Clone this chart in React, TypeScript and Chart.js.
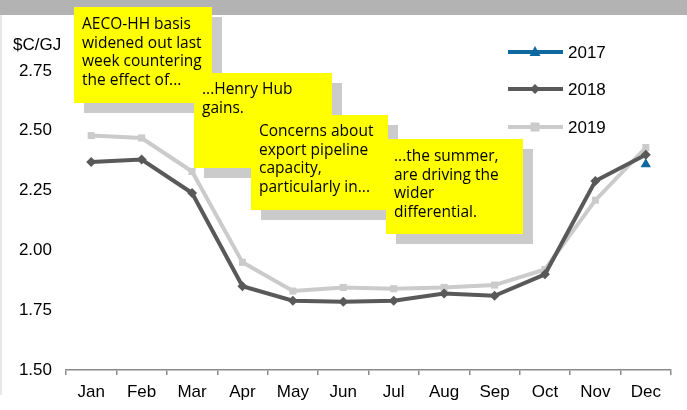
import React, { useEffect, useRef } from "react";
import { Chart, registerables } from "chart.js";

Chart.register(...registerables);

const months = ["Jan", "Feb", "Mar", "Apr", "May", "Jun", "Jul", "Aug", "Sep", "Oct", "Nov", "Dec"];
const series2017 = [null, null, null, null, null, null, null, null, null, null, null, 2.36];
const series2018 = [2.37, 2.38, 2.24, 1.85, 1.79, 1.785, 1.79, 1.82, 1.81, 1.9, 2.29, 2.4];
const series2019 = [2.48, 2.47, 2.33, 1.95, 1.83, 1.845, 1.84, 1.845, 1.855, 1.92, 2.21, 2.43];
const yMin = 1.5;
const yMax = 2.75;
const yStep = 0.25;
const unitLabel = "$C/GJ";
const legendNames = ["2017", "2018", "2019"];
const notes = [
  ["AECO-HH basis", "widened out last", "week countering", "the effect of..."],
  ["...Henry Hub", "gains."],
  ["Concerns about", "export pipeline", "capacity,", "particularly in..."],
  ["...the summer,", "are driving the", "wider", "differential."],
];

const C2017 = "#0f69a0";
const C2018 = "#595959";
const C2019 = "#cbcbcb";
const FONT = "'Liberation Sans', Arial, sans-serif";

const noteBoxes = [
  { left: 74, top: 7, width: 138, height: 96, pt: 7 },
  { left: 194, top: 73, width: 138, height: 95, pt: 6 },
  { left: 251, top: 115, width: 137, height: 95, pt: 6 },
  { left: 386, top: 139, width: 137, height: 95, pt: 7 },
];

const legendPlugin = {
  id: "customLegend",
  afterDraw(chart: any) {
    const ctx = chart.ctx;
    const colors = [C2017, C2018, C2019];
    const ys = [52, 89, 127];
    ctx.save();
    legendNames.forEach((name, i) => {
      const y = ys[i];
      ctx.strokeStyle = colors[i];
      ctx.lineWidth = 4;
      ctx.beginPath();
      ctx.moveTo(508, y);
      ctx.lineTo(563, y);
      ctx.stroke();
      ctx.fillStyle = colors[i];
      const cx = 535;
      ctx.beginPath();
      if (i === 0) {
        ctx.moveTo(cx, y - 6);
        ctx.lineTo(cx + 5.5, y + 4);
        ctx.lineTo(cx - 5.5, y + 4);
      } else if (i === 1) {
        ctx.moveTo(cx, y - 5);
        ctx.lineTo(cx + 5, y);
        ctx.lineTo(cx, y + 5);
        ctx.lineTo(cx - 5, y);
      } else {
        ctx.rect(cx - 4.5, y - 4.5, 9, 9);
      }
      ctx.closePath();
      ctx.fill();
      ctx.fillStyle = "#000";
      ctx.font = `17px ${FONT}`;
      ctx.textBaseline = "middle";
      ctx.textAlign = "left";
      ctx.fillText(name, 568, y + 1);
    });
    ctx.restore();
  },
};

export default function App() {
  const ref = useRef<HTMLCanvasElement | null>(null);
  useEffect(() => {
    if (!ref.current) return;
    const chart = new Chart(ref.current, {
      type: "line",
      data: {
        labels: months,
        datasets: [
          {
            label: legendNames[0],
            data: series2017,
            borderColor: C2017,
            backgroundColor: C2017,
            borderWidth: 4,
            pointStyle: "triangle",
            pointRadius: 6,
            pointBorderWidth: 0,
          },
          {
            label: legendNames[1],
            data: series2018,
            borderColor: C2018,
            backgroundColor: C2018,
            borderWidth: 4,
            pointStyle: "rectRot",
            pointRadius: 5,
            pointBorderWidth: 0,
          },
          {
            label: legendNames[2],
            data: series2019,
            borderColor: C2019,
            backgroundColor: C2019,
            borderWidth: 4,
            pointStyle: "rect",
            pointRadius: 5,
            pointBorderWidth: 0,
          },
        ],
      },
      options: {
        animation: false,
        responsive: false,
        maintainAspectRatio: false,
        layout: { padding: { top: 71, right: 16, left: 0, bottom: 0 } },
        plugins: { legend: { display: false }, tooltip: { enabled: false } },
        elements: { line: { tension: 0 } },
        scales: {
          x: {
            offset: true,
            afterFit: (s: any) => {
              s.height = 40;
            },
            border: { display: true, color: "#8a8a8a", width: 1.5 },
            grid: {
              display: true,
              offset: true,
              drawOnChartArea: false,
              drawTicks: true,
              tickLength: 5,
              color: "#8a8a8a",
              lineWidth: 1.5,
            },
            ticks: { color: "#000", font: { family: FONT, size: 17 }, padding: 7, maxRotation: 0 },
          },
          y: {
            min: yMin,
            max: yMax,
            afterFit: (s: any) => {
              s.width = 66;
            },
            border: { display: false },
            grid: { display: false, drawTicks: false, tickLength: 0 },
            ticks: {
              stepSize: yStep,
              color: "#000",
              font: { family: FONT, size: 17 },
              padding: 14,
              callback: (v: any) => Number(v).toFixed(2),
            },
          },
        },
      },
      plugins: [legendPlugin],
    });
    return () => chart.destroy();
  }, []);

  return (
    <div style={{ position: "absolute", left: 0, top: 0, width: 687, height: 410, background: "#fff", overflow: "hidden" }}>
      <canvas ref={ref} width={687} height={410} style={{ position: "absolute", left: 0, top: 0, width: 687, height: 410 }} />
      <div style={{ position: "absolute", left: 0, top: 0, width: 687, height: 15, background: "#b3b3b3" }} />
      <div style={{ position: "absolute", left: 0, top: 15, width: 2, height: 380, background: "#e8e8e8" }} />
      <div
        style={{
          position: "absolute",
          left: 13,
          top: 35,
          font: `17px ${FONT}`,
          color: "#000",
          lineHeight: "20px",
        }}
      >
        {unitLabel}
      </div>
      {notes.map((lines, i) => {
        const b = noteBoxes[i];
        return (
          <div
            key={i}
            style={{
              position: "absolute",
              left: b.left,
              top: b.top,
              width: b.width,
              height: b.height,
              background: "#ffff00",
              boxShadow: "10px 10px 0 #cbcbcb",
              boxSizing: "border-box",
              paddingLeft: 8,
              paddingTop: b.pt,
              fontFamily: "'Comic Sans MS', 'Open Sans', sans-serif",
              fontSize: 15.5,
              lineHeight: "18.7px",
              color: "#000",
              whiteSpace: "nowrap",
            }}
          >
            {lines.map((l, j) => (
              <div key={j}>{l}</div>
            ))}
          </div>
        );
      })}
    </div>
  );
}
